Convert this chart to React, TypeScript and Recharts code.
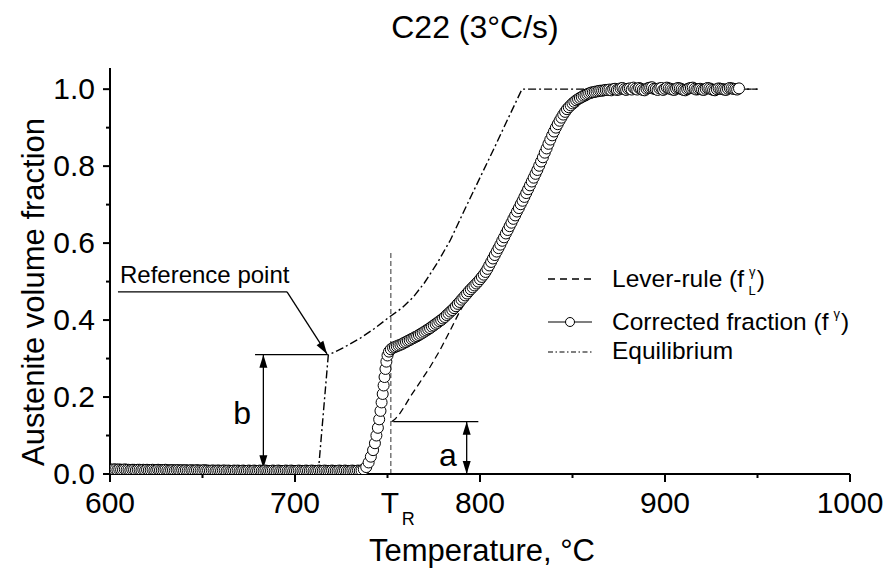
import React from 'react';
import {
  ComposedChart,
  Line,
  XAxis,
  YAxis,
  ReferenceLine,
  ReferenceDot,
  Legend,
} from 'recharts';

const FONT = '"Liberation Sans", Arial, Helvetica, sans-serif';

type Pt = [number, number];

// Corrected austenite fraction (temperature °C, fraction), before transformation
const correctedLow: Pt[] = [
  [600, 0.012], [601, 0.011], [602, 0.012], [603, 0.012], [604, 0.011], [605, 0.012], [606, 0.011], [607, 0.011], [608, 0.012], [609, 0.011],
  [610, 0.011], [611, 0.010], [612, 0.011], [613, 0.011], [614, 0.010], [615, 0.011], [616, 0.011], [617, 0.010], [618, 0.011], [619, 0.010],
  [620, 0.011], [621, 0.010], [622, 0.010], [623, 0.011], [624, 0.010], [625, 0.010], [626, 0.011], [627, 0.010], [628, 0.010], [629, 0.010],
  [630, 0.011], [631, 0.010], [632, 0.009], [633, 0.010], [634, 0.010], [635, 0.009], [636, 0.010], [637, 0.010], [638, 0.009], [639, 0.010],
  [640, 0.009], [641, 0.010], [642, 0.009], [643, 0.009], [644, 0.010], [645, 0.009], [646, 0.009], [647, 0.010], [648, 0.009], [649, 0.009],
  [650, 0.009], [651, 0.010], [652, 0.009], [653, 0.009], [654, 0.008], [655, 0.009], [656, 0.009], [657, 0.008], [658, 0.009], [659, 0.009],
  [660, 0.008], [661, 0.009], [662, 0.009], [663, 0.008], [664, 0.009], [665, 0.008], [666, 0.008], [667, 0.009], [668, 0.008], [669, 0.009],
  [670, 0.008], [671, 0.008], [672, 0.009], [673, 0.008], [674, 0.008], [675, 0.009], [676, 0.008], [677, 0.008], [678, 0.009], [679, 0.008],
  [680, 0.008], [681, 0.009], [682, 0.008], [683, 0.008], [684, 0.009], [685, 0.008], [686, 0.008], [687, 0.008], [688, 0.009], [689, 0.008],
  [690, 0.008], [691, 0.009], [692, 0.008], [693, 0.008], [694, 0.008], [695, 0.009], [696, 0.008], [697, 0.008], [698, 0.009], [699, 0.008],
  [700, 0.008], [701, 0.008], [702, 0.009], [703, 0.008], [704, 0.008], [705, 0.008], [706, 0.009], [707, 0.008], [708, 0.008], [709, 0.009],
  [710, 0.008], [711, 0.008], [712, 0.008], [713, 0.009], [714, 0.008], [715, 0.008], [716, 0.009], [717, 0.008], [718, 0.008], [719, 0.008],
  [720, 0.009], [721, 0.008], [722, 0.008], [723, 0.008], [724, 0.009], [725, 0.008], [726, 0.008], [727, 0.009], [728, 0.008], [729, 0.008],
  [730, 0.008], [731, 0.009], [732, 0.008], [733, 0.008], [734, 0.009], [735, 0.008], [736, 0.009],
];

// Steep rise just above 737 °C
const correctedRise: Pt[] = [
  [737.2, 0.012], [738.5, 0.018], [739.8, 0.030], [741.0, 0.045], [742.2, 0.062],
  [743.2, 0.080], [744.0, 0.100], [744.8, 0.120], [745.5, 0.142], [746.2, 0.164],
  [746.8, 0.186], [747.4, 0.208], [747.9, 0.230], [748.4, 0.252], [748.9, 0.273],
  [749.4, 0.292], [750.0, 0.308], [750.8, 0.318], [751.8, 0.324], [753.0, 0.328],
];

// Continued transformation and fully austenitic plateau
const correctedHigh: Pt[] = [
  [754, 0.330], [755, 0.332], [756, 0.334], [757, 0.336], [758, 0.338], [759, 0.341], [760, 0.343], [761, 0.346], [762, 0.348], [763, 0.351],
  [764, 0.353], [765, 0.356], [766, 0.358], [767, 0.361], [768, 0.364], [769, 0.367], [770, 0.370], [771, 0.373], [772, 0.376], [773, 0.379],
  [774, 0.383], [775, 0.386], [776, 0.390], [777, 0.393], [778, 0.397], [779, 0.400], [780, 0.404], [781, 0.408], [782, 0.413], [783, 0.417],
  [784, 0.422], [785, 0.426], [786, 0.431], [787, 0.436], [788, 0.442], [789, 0.447], [790, 0.453], [791, 0.458], [792, 0.464], [793, 0.469],
  [794, 0.475], [795, 0.480], [796, 0.485], [797, 0.490], [798, 0.495], [799, 0.500], [800, 0.506], [801, 0.512], [802, 0.518], [803, 0.525],
  [804, 0.533], [805, 0.542], [806, 0.551], [807, 0.560], [808, 0.569], [809, 0.578], [810, 0.587], [811, 0.596], [812, 0.606], [813, 0.615],
  [814, 0.625], [815, 0.634], [816, 0.644], [817, 0.653], [818, 0.663], [819, 0.672], [820, 0.682], [821, 0.691], [822, 0.701], [823, 0.710],
  [824, 0.720], [825, 0.730], [826, 0.740], [827, 0.750], [828, 0.760], [829, 0.770], [830, 0.780], [831, 0.790], [832, 0.801], [833, 0.812],
  [834, 0.823], [835, 0.835], [836, 0.846], [837, 0.858], [838, 0.869], [839, 0.880], [840, 0.890], [841, 0.900], [842, 0.909], [843, 0.918],
  [844, 0.926], [845, 0.934], [846, 0.941], [847, 0.948], [848, 0.953], [849, 0.958], [850, 0.963], [851, 0.967], [852, 0.971], [853, 0.974],
  [854, 0.977], [855, 0.980], [856, 0.983], [857, 0.985], [858, 0.987], [859, 0.989], [860, 0.991], [861, 0.992], [862, 0.993], [863, 0.994],
  [864, 0.995], [865, 0.996], [866, 0.996], [867, 0.997], [868, 0.998], [869, 0.998], [870, 0.999], [871, 0.997], [872, 1.000], [873, 1.001],
  [874, 0.998], [875, 0.999], [876, 1.002], [877, 1.003], [878, 1.000], [879, 0.998], [880, 1.001], [881, 1.002], [882, 0.999], [883, 1.004],
  [884, 1.001], [885, 0.999], [886, 1.003], [887, 1.001], [888, 0.998], [889, 0.997], [890, 1.001], [891, 1.003], [892, 1.004], [893, 1.005],
  [894, 1.001], [895, 1.000], [896, 0.998], [897, 1.002], [898, 1.003], [899, 0.998], [900, 1.001], [901, 1.004], [902, 1.002], [903, 1.001],
  [904, 0.999], [905, 0.998], [906, 1.001], [907, 1.003], [908, 1.002], [909, 1.000], [910, 0.998], [911, 0.997], [912, 1.000], [913, 1.002],
  [914, 1.003], [915, 1.004], [916, 1.001], [917, 0.999], [918, 1.000], [919, 1.001], [920, 0.999], [921, 0.998], [922, 1.001], [923, 1.003],
  [924, 1.002], [925, 1.000], [926, 0.998], [927, 0.997], [928, 1.000], [929, 1.002], [930, 1.001], [931, 1.000], [932, 0.999], [933, 0.998],
  [934, 1.001], [935, 1.003], [936, 1.002], [937, 1.001], [938, 1.000], [939, 0.999], [940, 1.002],
];

// Lever-rule fraction
const leverRule: Pt[] = [
  [752.2, 0.136], [754, 0.142], [756.8, 0.158], [759.5, 0.178], [762.2, 0.200],
  [767.5, 0.238], [773, 0.278], [778.4, 0.322], [784, 0.374], [789.2, 0.424],
  [794.6, 0.466], [800, 0.498], [810, 0.583], [820, 0.678], [830, 0.774],
  [840, 0.880], [848, 0.938], [856, 0.967], [862, 0.981], [870, 0.993],
  [880, 1.000], [950, 1.000],
];

// Equilibrium fraction
const equilibrium: Pt[] = [
  [712.5, 0.0], [718, 0.309], [726, 0.328], [735, 0.352], [743, 0.378],
  [751, 0.408], [758, 0.432], [764, 0.460], [770, 0.497], [777, 0.549],
  [784, 0.608], [792, 0.690], [800, 0.770], [808, 0.850], [815, 0.922],
  [822.7, 1.0], [950, 1.0],
];

const xTicks = [600, 650, 700, 750, 800, 850, 900, 950, 1000];
const yTicks = [0, 0.1, 0.2, 0.3, 0.4, 0.5, 0.6, 0.7, 0.8, 0.9, 1.0];
const TR = 751.8;

// Annotation anchors in data units (temperature, fraction)
const refLabelAt = { x: 605.4, y: 0.496 };
const refLeader: Pt[] = [[604.3, 0.473], [695.7, 0.473], [717.3, 0.312]];
const bLevel = 0.31;
const bSpan: Pt = [678.4, 718];
const bArrowX = 682.9;
const bArrowBottom = 0.015;
const bLabelAt = { x: 671.4, y: 0.158 };
const aLevel = 0.136;
const aSpan: Pt = [753.1, 799.1];
const aArrowX = 792.8;
const aLabelAt = { x: 782.7, y: 0.05 };
const trTop = 0.58;

const toRows = (pts: Pt[]) => pts.map(([T, f]) => ({ T, f }));

const correctedRows = toRows([...correctedLow, ...correctedRise, ...correctedHigh]);
const leverRows = toRows(leverRule);
const equilibriumRows = toRows(equilibrium);

const arrowHead = (tx: number, ty: number, fx: number, fy: number) => {
  const ang = Math.atan2(ty - fy, tx - fx);
  const L = 13;
  const W = 4;
  const bx = tx - L * Math.cos(ang);
  const by = ty - L * Math.sin(ang);
  const nx = -Math.sin(ang) * W;
  const ny = Math.cos(ang) * W;
  return (
    <polygon
      points={`${tx},${ty} ${bx + nx},${by + ny} ${bx - nx},${by - ny}`}
      fill="#000"
    />
  );
};

const arrowLine =
  (heads: 'none' | 'end' | 'both', dash?: string, color = '#000', width = 1.3) =>
  (p: any) => {
    const { x1, y1, x2, y2 } = p;
    return (
      <g>
        <line
          x1={x1}
          y1={y1}
          x2={x2}
          y2={y2}
          stroke={color}
          strokeWidth={width}
          strokeDasharray={dash}
        />
        {heads !== 'none' && arrowHead(x2, y2, x1, y1)}
        {heads === 'both' && arrowHead(x1, y1, x2, y2)}
      </g>
    );
  };

const textShape =
  (content: string, size: number, anchor: 'start' | 'middle', central: boolean) =>
  (p: any) => (
    <text
      x={p.cx}
      y={p.cy}
      fontSize={size}
      fontFamily={FONT}
      textAnchor={anchor}
      dominantBaseline={central ? 'central' : 'alphabetic'}
      fill="#000"
    >
      {content}
    </text>
  );

const XTick = (props: any) => {
  const { x, y, payload } = props;
  const v = payload.value;
  if (v === TR) {
    return (
      <g>
        <text x={x - 1} y={y + 38.5} textAnchor="middle" fontSize={30} fontFamily={FONT} fill="#000">
          T
        </text>
        <text x={x + 11} y={y + 51} fontSize={18} fontFamily={FONT} fill="#000">
          R
        </text>
      </g>
    );
  }
  const major = v % 100 === 0;
  return (
    <g>
      <line x1={x} y1={y} x2={x} y2={y + (major ? 8 : 4)} stroke="#000" strokeWidth={2} />
      {major && (
        <text x={x} y={y + 38.5} textAnchor="middle" fontSize={30} fontFamily={FONT} fill="#000">
          {v}
        </text>
      )}
    </g>
  );
};

const YTick = (props: any) => {
  const { x, y, payload } = props;
  const v = payload.value;
  const major = Math.round(v * 10) % 2 === 0;
  return (
    <g>
      <line x1={x} y1={y} x2={x - (major ? 7 : 4)} y2={y} stroke="#000" strokeWidth={2} />
      {major && (
        <text x={x - 15} y={y + 9.5} textAnchor="end" fontSize={30} fontFamily={FONT} fill="#000">
          {v.toFixed(1)}
        </text>
      )}
    </g>
  );
};

const XTitle = (props: any) => {
  const vb = props.viewBox;
  return (
    <text
      x={vb.x + vb.width / 2 + 2}
      y={vb.y + 87}
      textAnchor="middle"
      fontSize={31}
      fontFamily={FONT}
      fill="#000"
    >
      Temperature, °C
    </text>
  );
};

const YTitle = (props: any) => {
  const vb = props.viewBox;
  const cx = 33;
  const cy = vb.y + vb.height / 2 + 21;
  return (
    <text
      x={cx}
      y={cy}
      transform={`rotate(-90 ${cx} ${cy})`}
      textAnchor="middle"
      dominantBaseline="central"
      fontSize={31}
      fontFamily={FONT}
      fill="#000"
    >
      Austenite volume fraction
    </text>
  );
};

const LegendBox = () => (
  <svg width={330} height={115} style={{ display: 'block', overflow: 'visible' }}>
    <g fontFamily={FONT} fill="#000">
      <line x1={8} y1={24} x2={52} y2={24} stroke="#000" strokeWidth={1.3} strokeDasharray="7 5" />
      <text x={72} y={32} fontSize={24.5}>
        Lever-rule (f
        <tspan fontSize={13} dx={5} dy={-11}>γ</tspan>
        <tspan fontSize={13} dx={-7} dy={19}>L</tspan>
        <tspan fontSize={24.5} dx={1} dy={-8}>)</tspan>
      </text>

      <line x1={8} y1={67} x2={52} y2={67} stroke="#000" strokeWidth={1.2} />
      <circle cx={30} cy={67} r={4.5} fill="#fff" stroke="#000" strokeWidth={1} />
      <text x={72} y={75} fontSize={24.5}>
        Corrected fraction (f
        <tspan fontSize={13} dx={5} dy={-12}>γ</tspan>
        <tspan fontSize={24.5} dx={1} dy={12}>)</tspan>
      </text>

      <line x1={8} y1={97} x2={52} y2={97} stroke="#000" strokeWidth={1.2} strokeDasharray="5 2.5 1.5 2.5" />
      <text x={72} y={104} fontSize={24.5}>
        Equilibrium
      </text>
    </g>
  </svg>
);

export default function App() {
  return (
    <div style={{ position: 'relative', width: 885, height: 568, background: '#fff' }}>
      <style>{'body{margin:0;}'}</style>
      <div
        style={{
          position: 'absolute',
          left: 325,
          top: 11,
          width: 300,
          textAlign: 'center',
          fontFamily: FONT,
          fontSize: 32,
          lineHeight: '32px',
          color: '#000',
        }}
      >
        C22 (3°C/s)
      </div>
      <ComposedChart
        width={885}
        height={568}
        margin={{ top: 68, right: 35, bottom: 93, left: 109 }}
        style={{ fontFamily: FONT }}
      >
        <XAxis
          dataKey="T"
          type="number"
          domain={[600, 1000]}
          ticks={[...xTicks.slice(0, 4), TR, ...xTicks.slice(4)]}
          interval={0}
          height={1}
          tickSize={0}
          tickMargin={0}
          tickLine={false}
          tick={<XTick />}
          axisLine={{ stroke: '#000', strokeWidth: 2 }}
          allowDataOverflow
          label={{ content: <XTitle /> }}
        />
        <YAxis
          type="number"
          domain={[0, 1.055]}
          ticks={yTicks}
          interval={0}
          width={1}
          tickSize={0}
          tickMargin={0}
          tickLine={false}
          tick={<YTick />}
          axisLine={{ stroke: '#000', strokeWidth: 2 }}
          allowDataOverflow
          label={{ content: <YTitle /> }}
        />

        <ReferenceLine
          segment={[{ x: TR, y: 0 }, { x: TR, y: trTop }]}
          shape={arrowLine('none', '5 3', '#555', 1.2)}
        />

        <Line
          data={equilibriumRows}
          dataKey="f"
          name="Equilibrium"
          type="linear"
          stroke="#000"
          strokeWidth={1.4}
          strokeDasharray="8 3 2 3"
          dot={false}
          activeDot={false}
          isAnimationActive={false}
        />
        <Line
          data={leverRows}
          dataKey="f"
          name="Lever-rule"
          type="linear"
          stroke="#000"
          strokeWidth={1.3}
          strokeDasharray="7 4"
          dot={false}
          activeDot={false}
          isAnimationActive={false}
        />
        <Line
          data={correctedRows}
          dataKey="f"
          name="Corrected fraction"
          type="linear"
          stroke="#000"
          strokeWidth={1}
          dot={{ r: 5.5, fill: '#fff', stroke: '#000', strokeWidth: 1 }}
          activeDot={false}
          isAnimationActive={false}
        />

        {/* Reference point call-out */}
        <ReferenceLine
          segment={[{ x: refLeader[0][0], y: refLeader[0][1] }, { x: refLeader[1][0], y: refLeader[1][1] }]}
          shape={arrowLine('none')}
        />
        <ReferenceLine
          segment={[{ x: refLeader[1][0], y: refLeader[1][1] }, { x: refLeader[2][0], y: refLeader[2][1] }]}
          shape={arrowLine('end')}
        />
        <ReferenceDot x={refLabelAt.x} y={refLabelAt.y} r={0} shape={textShape('Reference point', 24, 'start', false)} />

        {/* Offset b */}
        <ReferenceLine
          segment={[{ x: bSpan[0], y: bLevel }, { x: bSpan[1], y: bLevel }]}
          shape={arrowLine('none')}
        />
        <ReferenceLine
          segment={[{ x: bArrowX, y: bLevel }, { x: bArrowX, y: bArrowBottom }]}
          shape={arrowLine('both')}
        />
        <ReferenceDot x={bLabelAt.x} y={bLabelAt.y} r={0} shape={textShape('b', 32, 'middle', true)} />

        {/* Offset a */}
        <ReferenceLine
          segment={[{ x: aSpan[0], y: aLevel }, { x: aSpan[1], y: aLevel }]}
          shape={arrowLine('none')}
        />
        <ReferenceLine
          segment={[{ x: aArrowX, y: aLevel }, { x: aArrowX, y: 0 }]}
          shape={arrowLine('both')}
        />
        <ReferenceDot x={aLabelAt.x} y={aLabelAt.y} r={0} shape={textShape('a', 32, 'middle', true)} />

        <Legend
          layout="horizontal"
          verticalAlign="middle"
          align="center"
          content={() => <LegendBox />}
          wrapperStyle={{ position: 'absolute', left: 540, top: 255, width: 330, height: 115 }}
        />
      </ComposedChart>
    </div>
  );
}
